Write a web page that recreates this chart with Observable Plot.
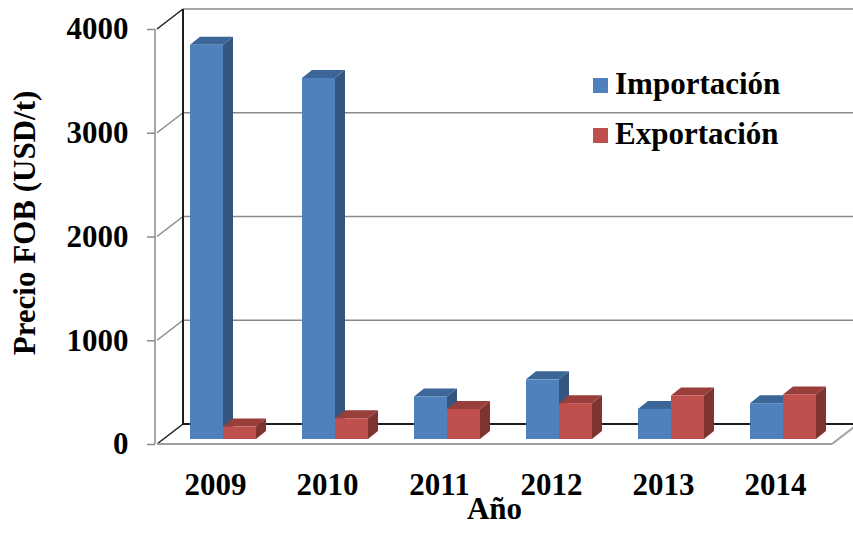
<!DOCTYPE html>
<html><head><meta charset="utf-8">
<script src="https://cdn.jsdelivr.net/npm/d3@7"></script>
<script src="https://cdn.jsdelivr.net/npm/@observablehq/plot@0.6"></script>
<style>
body{margin:0;background:#fff;}
#wrap{position:relative;width:853px;height:534px;font-family:"Liberation Serif","Times New Roman",serif;overflow:hidden;}
.sw{position:absolute;width:15px;height:15px;}
.lt{position:absolute;font-weight:bold;font-size:31px;line-height:31px;white-space:nowrap;color:#000;}
</style></head><body><div id="wrap"></div>
<script>
const years = ["2009","2010","2011","2012","2013","2014"];
const importacion = [3800,3480,410,575,290,345];
const exportacion = [120,200,290,345,420,430];
const yTicks = [0,1000,2000,3000,4000];
const seriesNames = ["Importación","Exportación"];
const yLabel = "Precio FOB (USD/t)";
const xLabel = "Año";

const palette = [
  {front:"#4F81BD", side:"#34557F", top:"#3D6698"},
  {front:"#C0504D", side:"#7F3432", top:"#983E3B"}
];

const rows = [];
years.forEach((yr,i)=>{
  rows.push({year:yr, k:0, value:importacion[i]});
  rows.push({year:yr, k:1, value:exportacion[i]});
});

const GREY = "#8a8a8a", DARK = "#1e1e1e";
const BACK = [26,-20];   // back wall offset (px)
const OFF = [8,-5];      // bar front face offset
const DEPTH = [10,-8];   // bar depth
const BW = 33;           // bar width

function walls(index, scales, values, dims) {
  const {x, y} = scales;
  const [xl, xr] = x.range();
  const g = d3.create("svg:g").attr("fill","none");
  const line = (x1,y1,x2,y2,c,w=1.5)=>g.append("line").attr("x1",x1).attr("y1",y1).attr("x2",x2).attr("y2",y2).attr("stroke",c).attr("stroke-width",w);
  const top = yTicks[yTicks.length-1];
  for (const t of yTicks) {
    const dark = (t===0 || t===top);
    line(xl+BACK[0], y(t)+BACK[1], dims.width+5, y(t)+BACK[1], t===0?DARK:GREY, t===0?2:1.5);
    line(xl, y(t), xl+BACK[0], y(t)+BACK[1], dark?DARK:GREY, 1.5);
  }
  line(xl+BACK[0], y(top)+BACK[1], xl+BACK[0], y(0)+BACK[1], DARK, 2);
  line(xl-2, y(top), xl-2, y(0), GREY, 1.5);
  line(xl, y(0), xr, y(0), "#a0a0a0", 2);
  line(xr, y(0), xr+BACK[0], y(0)+BACK[1], "#a0a0a0", 2);
  return g.node();
}

function bars3d(index, scales, values, dims) {
  const {x, y} = scales;
  const g = d3.create("svg:g");
  for (const d of rows) {
    const x1 = x(d.year) + OFF[0] + (d.k===0 ? -BW : 0), x2 = x1 + BW;
    const y0 = y(0) + OFF[1], y1 = y(d.value) + OFF[1];
    const c = palette[d.k];
    const [dx, dy] = DEPTH;
    g.append("path").attr("fill", c.side)
      .attr("d", `M${x2},${y1}L${x2+dx},${y1+dy}L${x2+dx},${y0+dy}L${x2},${y0}Z`);
    g.append("path").attr("fill", c.top)
      .attr("d", `M${x1},${y1}L${x1+dx},${y1+dy}L${x2+dx},${y1+dy}L${x2},${y1}Z`);
    g.append("rect").attr("fill", c.front)
      .attr("x", x1).attr("y", y1).attr("width", BW).attr("height", y0-y1);
  }
  return g.node();
}

const chart = Plot.plot({
  width: 853,
  height: 534,
  marginLeft: 155,
  marginRight: 20,
  marginTop: 29,
  marginBottom: 90,
  style: {fontFamily: '"Liberation Serif","Times New Roman",serif', color: "#000", background: "#fff", overflow: "hidden"},
  x: {type: "point", domain: years, range: [157, 832], padding: 0.5},
  y: {domain: [0, 4000]},
  marks: [
    walls,
    bars3d,
    Plot.axisY(yTicks, {tickSize: 8, tickPadding: 19, tickFormat: d => String(d), fontSize: 31, fontWeight: "bold", stroke: GREY, strokeWidth: 1.5, fill: "#000", label: null}),
    Plot.axisX(years, {tickSize: 0, tickPadding: 28, fontSize: 31, fontWeight: "bold", fill: "#000", label: null}),
    Plot.text([yLabel], {frameAnchor: "left", textAnchor: "middle", lineAnchor: "middle", dx: -130, dy: -14, rotate: -90, fontSize: 31, fontWeight: "bold", fill: "#000"}),
    Plot.text([xLabel], {frameAnchor: "bottom", textAnchor: "middle", lineAnchor: "middle", dy: 65, fontSize: 31, fontWeight: "bold", fill: "#000"})
  ]
});

const wrap = document.getElementById("wrap");
wrap.appendChild(chart);
const legTops = [78, 128];
seriesNames.forEach((name, i) => {
  const sw = document.createElement("div");
  sw.className = "sw";
  sw.style.left = "593px"; sw.style.top = legTops[i] + "px";
  sw.style.background = palette[i].front;
  wrap.appendChild(sw);
  const t = document.createElement("div");
  t.className = "lt";
  t.textContent = name;
  t.style.left = "615px"; t.style.top = (legTops[i] - 10) + "px";
  wrap.appendChild(t);
});
</script>
</body></html>
